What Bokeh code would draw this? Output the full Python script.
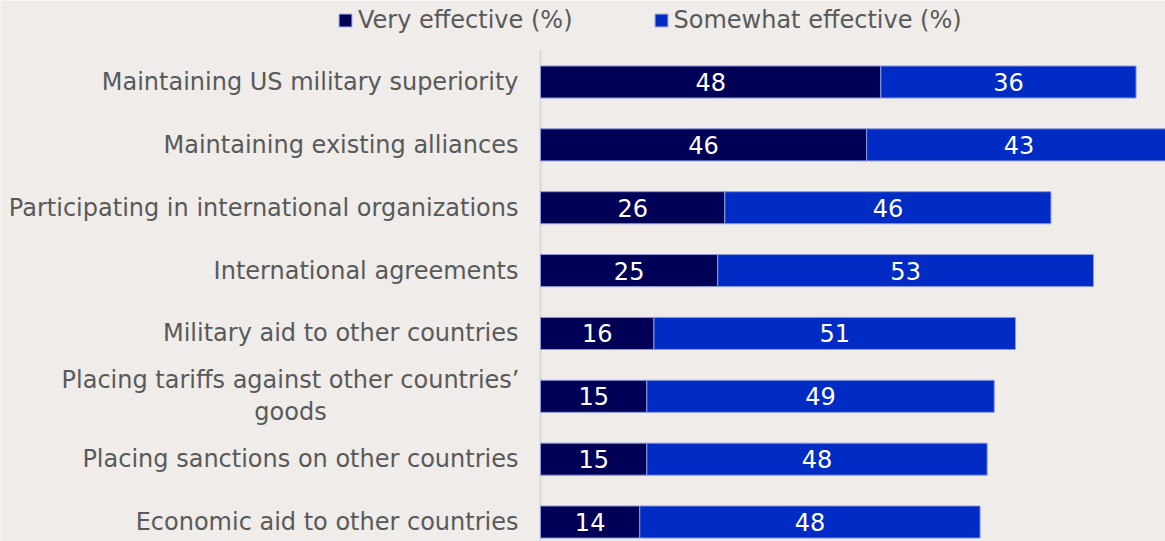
import numpy as np
from bokeh.plotting import figure
from bokeh.models import ColumnDataSource, Range1d, Legend, LegendItem
from bokeh.core.properties import value
from bokeh.embed import file_html
from bokeh.resources import INLINE

categories = [
    "Maintaining US military superiority",
    "Maintaining existing alliances",
    "Participating in international organizations",
    "International agreements",
    "Military aid to other countries",
    "Placing tariffs against other countries\u2019\ngoods",
    "Placing sanctions on other countries",
    "Economic aid to other countries",
]
very_effective = [48, 46, 26, 25, 16, 15, 15, 14]
somewhat_effective = [36, 43, 46, 53, 51, 49, 48, 48]
series_names = ["Very effective (%)", "Somewhat effective (%)"]

BG = "#EFECE9"
DARK = "#000057"
BLUE = "#002BC4"
TXT = "#595959"
FONT = "DejaVu Sans"
FS = "24px"

W, H = 1165, 541
PX_PER_UNIT = 7.09
ROW_PX = 62.86
ZERO_X = 540
ROW0_Y = 81.5
STANDOFF = 22          # px between labels and axis
WRAP_HALF = 228        # half width (px) of the wrapped label's first line, to centre its lines

ypos = list(range(len(categories)))
src = ColumnDataSource(dict(y=ypos, very=very_effective, somewhat=somewhat_effective))

p = figure(width=W, height=H, output_backend="svg", toolbar_location=None,
           x_range=Range1d(-ZERO_X / PX_PER_UNIT, (W - ZERO_X) / PX_PER_UNIT),
           y_range=Range1d((H - ROW0_Y) / ROW_PX, -ROW0_Y / ROW_PX),
           min_border=0, background_fill_color=BG, border_fill_color=BG,
           outline_line_color=None)
p.axis.visible = False
p.grid.visible = False

# axis line
p.segment(x0=[0], y0=[(50 - ROW0_Y) / ROW_PX], x1=[0], y1=[(H - ROW0_Y) / ROW_PX + 1],
          line_color="#D9D9D9", line_width=2)

rs = p.hbar_stack(["very", "somewhat"], y="y", height=0.51, source=src,
                  color=[DARK, BLUE], line_color="#8C9BDD", line_width=1)

v = np.array(very_effective, dtype=float)
s = np.array(somewhat_effective, dtype=float)
lab = ColumnDataSource(dict(
    x=np.concatenate([v / 2, v + s / 2]),
    y=ypos + ypos,
    t=[str(a) for a in very_effective] + [str(b) for b in somewhat_effective],
))
p.text(x="x", y="y", text="t", source=lab, text_color="white",
       text_font=value(FONT), text_font_size=FS,
       text_align="center", text_baseline="middle")

multi = ["\n" in c for c in categories]
cat_x = [-(STANDOFF + (WRAP_HALF if m else 0)) / PX_PER_UNIT for m in multi]
cat_align = ["center" if m else "right" for m in multi]
cat_src = ColumnDataSource(dict(x=cat_x, y=ypos, t=categories, a=cat_align))
p.text(x="x", y="y", text="t", source=cat_src, text_color=TXT,
       text_font=value(FONT), text_font_size=FS, text_line_height=1.15,
       text_align="a", text_baseline="middle")

legend = Legend(items=[LegendItem(label=series_names[0], renderers=[rs[0]]),
                       LegendItem(label=series_names[1], renderers=[rs[1]])],
                orientation="horizontal", location=(337, H - 34),
                label_text_font=FONT, label_text_font_size=FS, label_text_color=TXT,
                label_height=26, glyph_width=16, glyph_height=16, label_standoff=5, spacing=80,
                padding=0, margin=0, background_fill_alpha=0, border_line_color=None)
p.add_layout(legend, "center")

open("out.html", "w").write(file_html(p, INLINE))
